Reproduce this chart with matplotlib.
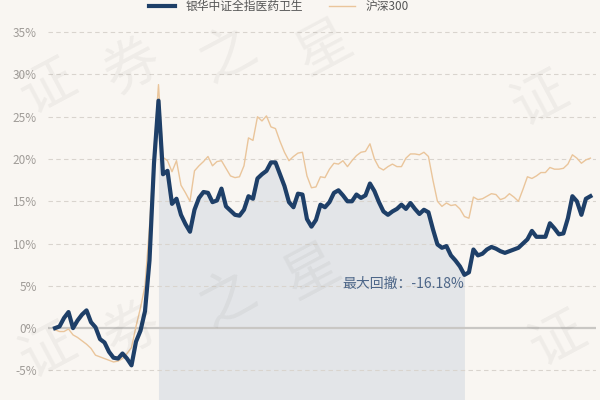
import matplotlib
matplotlib.use('Agg')
import matplotlib.pyplot as plt
from matplotlib.ticker import FuncFormatter

plt.rcParams['font.family'] = ['Noto Sans CJK SC', 'DejaVu Sans']

# 累计收益率（%），按交易日顺序
fund_name = '银华中证全指医药卫生'
index_name = '沪深300'

fund = [0.0, 0.2, 1.2, 1.9, 0.0, 0.9, 1.6, 2.1, 0.7, 0.1,
        -1.3, -1.7, -2.8, -3.5, -3.6, -3.0, -3.6, -4.4, -1.6, -0.3,
        2.0, 8.0, 19.5, 26.9, 18.2, 18.6, 14.7, 15.3, 13.4, 12.3,
        11.4, 14.0, 15.4, 16.1, 16.0, 14.9, 15.1, 16.5, 14.4, 13.9,
        13.4, 13.3, 14.0, 15.6, 15.3, 17.7, 18.2, 18.6, 19.6, 19.6,
        18.2, 16.8, 14.9, 14.3, 15.9, 15.8, 12.9, 12.0, 12.8, 14.6,
        14.3, 14.9, 16.0, 16.3, 15.7, 15.0, 15.0, 15.8, 15.4, 15.7,
        17.1, 16.2, 14.9, 13.8, 13.4, 13.8, 14.1, 14.6, 14.1, 14.8,
        14.1, 13.5, 14.0, 13.7, 11.7, 9.9, 9.5, 9.7, 8.6, 8.0,
        7.3, 6.3, 6.6, 9.3, 8.6, 8.8, 9.3, 9.6, 9.4, 9.1,
        8.9, 9.1, 9.3, 9.5, 10.0, 10.5, 11.5, 10.8, 10.8, 10.8,
        12.4, 11.8, 11.1, 11.2, 13.0, 15.6, 15.0, 13.4, 15.3, 15.6]

hs300 = [-0.2, -0.4, -0.4, -0.1, -0.8, -1.1, -1.5, -1.9, -2.4, -3.2,
         -3.4, -3.6, -3.8, -4.0, -3.9, -3.6, -3.0, -2.3, 0.2, 2.4,
         5.0, 12.0, 21.0, 28.8, 20.2, 19.8, 18.5, 19.8, 16.9, 16.0,
         15.0, 18.6, 19.2, 19.7, 20.3, 19.2, 19.7, 19.8, 18.9, 18.0,
         17.8, 17.9, 19.2, 22.5, 22.2, 25.0, 24.5, 25.1, 23.8, 23.6,
         22.1, 20.8, 19.8, 20.3, 20.7, 20.8, 18.0, 16.6, 16.7, 17.9,
         17.8, 18.8, 19.5, 19.4, 19.8, 19.1, 19.8, 20.4, 20.8, 20.9,
         21.8, 20.0, 19.0, 18.7, 19.1, 19.4, 19.1, 19.1, 20.1, 20.6,
         20.6, 20.5, 20.8, 20.3, 17.5, 15.0, 14.4, 14.8, 14.5, 14.6,
         14.1, 13.2, 13.0, 15.5, 15.2, 15.3, 15.6, 15.9, 15.8, 15.2,
         15.4, 15.9, 15.5, 15.0, 16.4, 17.9, 17.7, 18.0, 18.4, 18.4,
         19.0, 18.8, 18.8, 18.9, 19.4, 20.5, 20.1, 19.5, 19.9, 20.1]

y_ticks = [-5, 0, 5, 10, 15, 20, 25, 30, 35]
max_dd_label = '最大回撤：-16.18%'

days = list(range(len(fund)))

# 最大回撤区间
peak_i = 0
best = (0, 0, 0.0)
for i, v in enumerate(fund):
    if fund[i] > fund[peak_i]:
        peak_i = i
    dd = (1 + v / 100) / (1 + fund[peak_i] / 100) - 1
    if dd < best[2]:
        best = (peak_i, i, dd)
dd_start, dd_end = best[0], best[1]

bg = '#f9f6f2'
fig = plt.figure(figsize=(6, 4), dpi=100, facecolor=bg)
ax = fig.add_axes([0.08, 0.0, 0.913, 0.9375], facecolor=bg)

ymin, ymax = -8.5, 35.85
ax.set_xlim(-1.56, 120.2)
ax.set_ylim(ymin, ymax)

# 水印（淡灰色）
wm = dict(color='#000000', alpha=0.045, fontsize=40, rotation=28,
          ha='center', va='center', transform=fig.transFigure, zorder=0)
for (x, y, s) in [(0.08, 0.78, '证'), (0.22, 0.83, '券'), (0.38, 0.86, '之'), (0.54, 0.88, '星'),
                  (0.08, 0.12, '证'), (0.22, 0.17, '券'), (0.38, 0.25, '之'), (0.52, 0.32, '星'),
                  (0.9, 0.75, '证'), (0.93, 0.15, '证')]:
    fig.text(x, y, s, **wm)

ax.fill_between(days[dd_start:dd_end + 1], fund[dd_start:dd_end + 1], ymin,
                color='#e3e5e8', lw=0, zorder=1)

for t in y_ticks:
    if t == 0:
        ax.axhline(t, color='#c9c7c4', lw=1.6, zorder=1.5)
    else:
        ax.axhline(t, color='#d9d4ce', lw=0.8, ls=(0, (4, 3)), zorder=1.5)

ax.plot(days, hs300, color='#eac59b', lw=1.0, label=index_name, zorder=2)
ax.plot(days, fund, color='#1e3f68', lw=3.0, label=fund_name, zorder=3,
        solid_joinstyle='round')

ax.text(dd_end, 5.2, max_dd_label, ha='right', va='center', fontsize=10,
        color='#4d6688', zorder=4)

ax.set_yticks(y_ticks)
ax.yaxis.set_major_formatter(FuncFormatter(lambda v, p: f'{v:.0f}%'))
ax.tick_params(axis='y', length=0, pad=8, labelsize=8.5, labelcolor='#a09c98')
ax.set_xticks([])
for s in ax.spines.values():
    s.set_visible(False)

handles, labels = ax.get_legend_handles_labels()
fig.legend(handles[::-1], labels[::-1], loc='center', bbox_to_anchor=(0.465, 0.983),
           ncol=2, frameon=False, fontsize=8.5, handlelength=2.2, handletextpad=0.9,
           columnspacing=2.2, labelcolor='#555555', borderpad=0.1)

fig.savefig('out.png', dpi=100, facecolor=bg)
